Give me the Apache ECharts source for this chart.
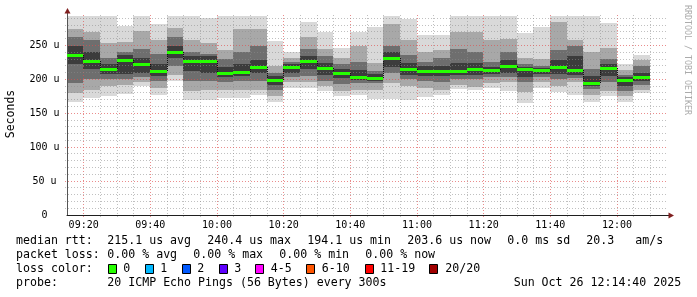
<!DOCTYPE html>
<html><head><meta charset="utf-8">
<script src="https://cdn.jsdelivr.net/npm/echarts@6/dist/echarts.min.js"></script>
<style>html,body{margin:0;padding:0;background:#fff}#c{width:697px;height:297px}</style>
</head><body><div id="c"></div>
<script>
// ---- data (values in microseconds, 5-minute steps) ----
const startTimes = ['09:15','09:20','09:25','09:30','09:35','09:40','09:45','09:50','09:55','10:00',
  '10:05','10:10','10:15','10:20','10:25','10:30','10:35','10:40','10:45','10:50',
  '10:55','11:00','11:05','11:10','11:15','11:20','11:25','11:30','11:35','11:40',
  '11:45','11:50','11:55','12:00','12:05'];
const pingMax = [294,294,294,279,294,281,294,294,290,294, 294,294,257,241,284,270,246,270,277,294,
  289,265,265,294,293,294,294,268,277,294, 294,294,283,222,236];
const pingMin = [167,172,175,179,190,177,197,170,169,172, 172,177,166,188,187,183,175,177,171,171,
  169,174,177,186,184,187,183,165,188,182, 177,167,176,167,180];
const band2Lo = [180,185,190,192,196,187,207,183,185,184, 185,185,175,196,196,190,183,184,184,194,
  190,187,184,192,189,195,196,182,196,190, 196,177,183,175,185];
const band2Hi = [275,270,253,255,272,258,276,258,253,243, 275,275,220,232,262,245,232,250,224,282,
  258,241,243,270,270,258,260,232,230,285, 258,241,246,214,229];
const band3Lo = [195,200,200,200,203,197,220,197,197,196, 198,198,185,204,205,198,193,195,194,210,
  200,198,196,200,200,203,204,196,203,200, 202,186,196,183,192];
const band3Hi = [262,258,232,240,245,238,262,240,238,230, 240,250,209,226,245,235,222,225,212,250,
  236,226,232,245,240,225,240,223,220,243, 250,215,230,207,220];
const band4Lo = [222,215,208,208,210,205,232,212,210,203, 205,210,192,210,215,206,202,199,198,218,
  206,205,205,206,207,208,210,204,208,208, 206,190,205,190,197];
const band4Hi = [250,240,222,236,232,222,250,234,234,218, 222,228,205,222,235,224,215,214,208,240,
  224,220,220,224,224,219,228,219,217,228, 235,205,222,203,210];
const medianRtt = [236,227,215.5,228.5,222.5,213,240.4,226.5,226.5,210, 211.5,219,199,218.5,227.5,217.5,209,203,201.5,231,
  215,213,212.5,213,215,213.7,219.3,216,214,218.6, 214,194.1,216.6,198.8,203.6];
const tickLabels = ['09:20','09:40','10:00','10:20','10:40','11:00','11:20','11:40','12:00'];
const yTickLabels = ['0','50 u','100 u','150 u','200 u','250 u'];
const medianStats = ['215.1 us avg','240.4 us max','194.1 us min','203.6 us now','0.0 ms sd','20.3','am/s'];
const lossStats = ['0.00 % avg','0.00 % max','0.00 % min','0.00 % now'];
const lossLabels = ['0','1','2','3','4-5','6-10','11-19','20/20'];
const lossColors = ['#26ff00','#00b8ff','#0059ff','#5e00ff','#ff00ff','#ff5500','#ff0000','#a10000'];
const probeText = '20 ICMP Echo Pings (56 Bytes) every 300s';
const stampText = 'Sun Oct 26 12:14:40 2025';

// ---- helpers ----
const STEP = 5;
function toMin(s){ const p = s.split(':').map(Number); return p[0]*60 + p[1]; }
function fmt(v){ const h = Math.floor(v/60), m = v%60; return String(h).padStart(2,'0')+':'+String(m).padStart(2,'0'); }
const X_MIN = toMin('09:15'), X_MAX = toMin('12:15');
const tickSet = new Set(tickLabels.map(toMin));
const Y_MAX = 295;
const px = v => Math.floor(v + 0.01);

const smokeData = startTimes.map((t,i)=>[toMin(t), pingMin[i], pingMax[i], band2Lo[i], band2Hi[i],
  band3Lo[i], band3Hi[i], band4Lo[i], band4Hi[i]]);
const medianData = startTimes.map((t,i)=>[toMin(t), medianRtt[i], i>0 ? medianRtt[i-1] : medianRtt[i]]);

const GRID_C = 'rgba(140,140,140,0.55)';
const MGRID_C = 'rgba(222,79,79,0.65)';
const xGridData = [];
for (let v = X_MIN + STEP; v < X_MAX; v += STEP) xGridData.push([v, tickSet.has(v) ? 1 : 0]);
const yGridData = [];
for (let v = 10; v < Y_MAX; v += 10) yGridData.push([v, v % 50 === 0 ? 1 : 0]);

const smokeCols = ['#d9d9d9','#a8a8a8','#6e6e6e','#3c3c3c'];

function renderSmoke(params, api){
  const t = api.value(0);
  const xa = px(api.coord([t,0])[0]);
  const xb = px(api.coord([t+STEP,0])[0]);
  const children = [];
  for (let k = 0; k < 4; k++){
    const lo = api.value(1+2*k), hi = api.value(2+2*k);
    const y1 = Math.round(api.coord([t,hi])[1]);
    const y2 = Math.round(api.coord([t,lo])[1]);
    children.push({type:'rect', shape:{x:xa, y:y1, width:xb-xa, height:y2-y1}, style:{fill:smokeCols[k]}});
  }
  return {type:'group', children};
}
function renderMedian(params, api){
  const t = api.value(0);
  const xa = px(api.coord([t,0])[0]);
  const xb = px(api.coord([t+STEP,0])[0]);
  const ym = Math.round(api.coord([t, api.value(1)])[1]);
  const yp = Math.round(api.coord([t, api.value(2)])[1]);
  return {type:'group', children:[
    {type:'line', shape:{x1:xa+0.5, y1:yp, x2:xa+0.5, y2:ym}, style:{stroke:'#111', lineWidth:1, lineDash:[1,1]}},
    {type:'rect', shape:{x:xa, y:ym-1, width:xb-xa, height:3}, style:{fill:'#26ff00'}}
  ]};
}
function renderVGrid(params, api){
  const cs = params.coordSys;
  const x = px(api.coord([api.value(0), 0])[0]) + 0.5;
  return {type:'line', shape:{x1:x, y1:cs.y, x2:x, y2:cs.y+cs.height+2},
    style:{stroke: api.value(1) ? MGRID_C : GRID_C, lineWidth:1, lineDash:[1,2]}};
}
function renderHGrid(params, api){
  const cs = params.coordSys;
  const y = px(api.coord([X_MIN, api.value(0)])[1]) + 0.5;
  return {type:'line', shape:{x1:cs.x-2, y1:y, x2:cs.x+cs.width, y2:y},
    style:{stroke: api.value(1) ? MGRID_C : GRID_C, lineWidth:1, lineDash:[1,2]}};
}

const MONO = '"DejaVu Sans Mono", monospace';
const LF = '11.6px ' + MONO;
const graphics = [];
function txt(s, x, y){ graphics.push({type:'text', x:x, y:y, silent:true,
  style:{text:s, font:LF, fill:'#000', align:'left', verticalAlign:'middle'}}); }
// axis arrows and extensions
graphics.push({type:'line', shape:{x1:67.5,y1:15,x2:67.5,y2:12}, style:{stroke:'#555',lineWidth:1}});
graphics.push({type:'polygon', shape:{points:[[64.5,13.5],[70.5,13.5],[67.5,8]]}, style:{fill:'#801f1f'}});
graphics.push({type:'line', shape:{x1:667,y1:215.5,x2:669,y2:215.5}, style:{stroke:'#1f1f1f',lineWidth:1}});
graphics.push({type:'polygon', shape:{points:[[668.5,212.5],[668.5,218.5],[674,215.5]]}, style:{fill:'#801f1f'}});
// axis title and watermark
graphics.push({type:'text', x:11, y:114, rotation:Math.PI/2, silent:true,
  style:{text:'Seconds', font:'11.5px '+MONO, fill:'#000', align:'center', verticalAlign:'middle'}});
graphics.push({type:'text', x:687, y:60, rotation:-Math.PI/2, silent:true,
  style:{text:'RRDTOOL / TOBI OETIKER', font:'8.3px '+MONO, fill:'#ababab', align:'center', verticalAlign:'middle'}});
// legend
const rowY = [241.3, 254.7, 268.9, 282.9];
txt('median rtt:', 16, rowY[0]);
const medX = [107.3, 207.3, 307.3, 407.3, 507.3, 586.3, 635.3];
medianStats.forEach((s,i)=>txt(s, medX[i], rowY[0]));
txt('packet loss:', 16, rowY[1]);
const lossX = [107.3, 193.3, 279.3, 365.3];
lossStats.forEach((s,i)=>txt(s, lossX[i], rowY[1]));
txt('loss color:', 16, rowY[2]);
const boxX = [108.5, 145.5, 182.5, 219.5, 255.5, 306.5, 365.5, 429.5];
const boxLabelX = [123.3, 160.3, 197.3, 234.3, 270.7, 321.7, 380.3, 445.3];
lossLabels.forEach((s,i)=>{
  graphics.push({type:'rect', silent:true, shape:{x:boxX[i], y:264.5, width:8, height:9},
    style:{fill:lossColors[i], stroke:'#000', lineWidth:1}});
  txt(s, boxLabelX[i], rowY[2]);
});
txt('probe:', 16, rowY[3]);
txt(probeText, 107.3, rowY[3]);
txt(stampText, 513.7, rowY[3]);

const chart = echarts.init(document.getElementById('c'), null, {renderer:'canvas'});
chart.setOption({
  animation:false,
  backgroundColor:'#ffffff',
  grid:{left:67, right:30, top:15, bottom:82, containLabel:false},
  xAxis:{
    type:'value', min:X_MIN, max:X_MAX, interval:STEP, z:3,
    axisLine:{show:true, onZero:false, lineStyle:{color:'#1f1f1f', width:1}},
    axisTick:{show:false},
    axisLabel:{formatter:v=>tickSet.has(v)?fmt(v):'', fontFamily:MONO, fontSize:10, color:'#000', margin:5},
    splitLine:{show:false}
  },
  yAxis:{
    type:'value', min:0, max:Y_MAX, interval:10, z:3,
    axisLine:{show:true, onZero:false, lineStyle:{color:'#555', width:1}},
    axisTick:{show:false},
    axisLabel:{formatter:v=> v % 50 === 0 ? yTickLabels[v/50] : '', showMaxLabel:false,
      fontFamily:MONO, fontSize:10, color:'#000', align:'center', margin:22.5},
    splitLine:{show:false}
  },
  series:[
    {type:'custom', name:'smoke', z:1, silent:true, renderItem:renderSmoke,
      encode:{x:0, y:[1,2]}, data:smokeData},
    {type:'custom', name:'vgrid', z:2, silent:true, renderItem:renderVGrid,
      encode:{x:0}, data:xGridData},
    {type:'custom', name:'hgrid', z:2, silent:true, renderItem:renderHGrid,
      encode:{y:0}, data:yGridData},
    {type:'custom', name:'median', z:5, silent:true, renderItem:renderMedian,
      encode:{x:0, y:1}, data:medianData}
  ],
  graphic:graphics
});
</script></body></html>
